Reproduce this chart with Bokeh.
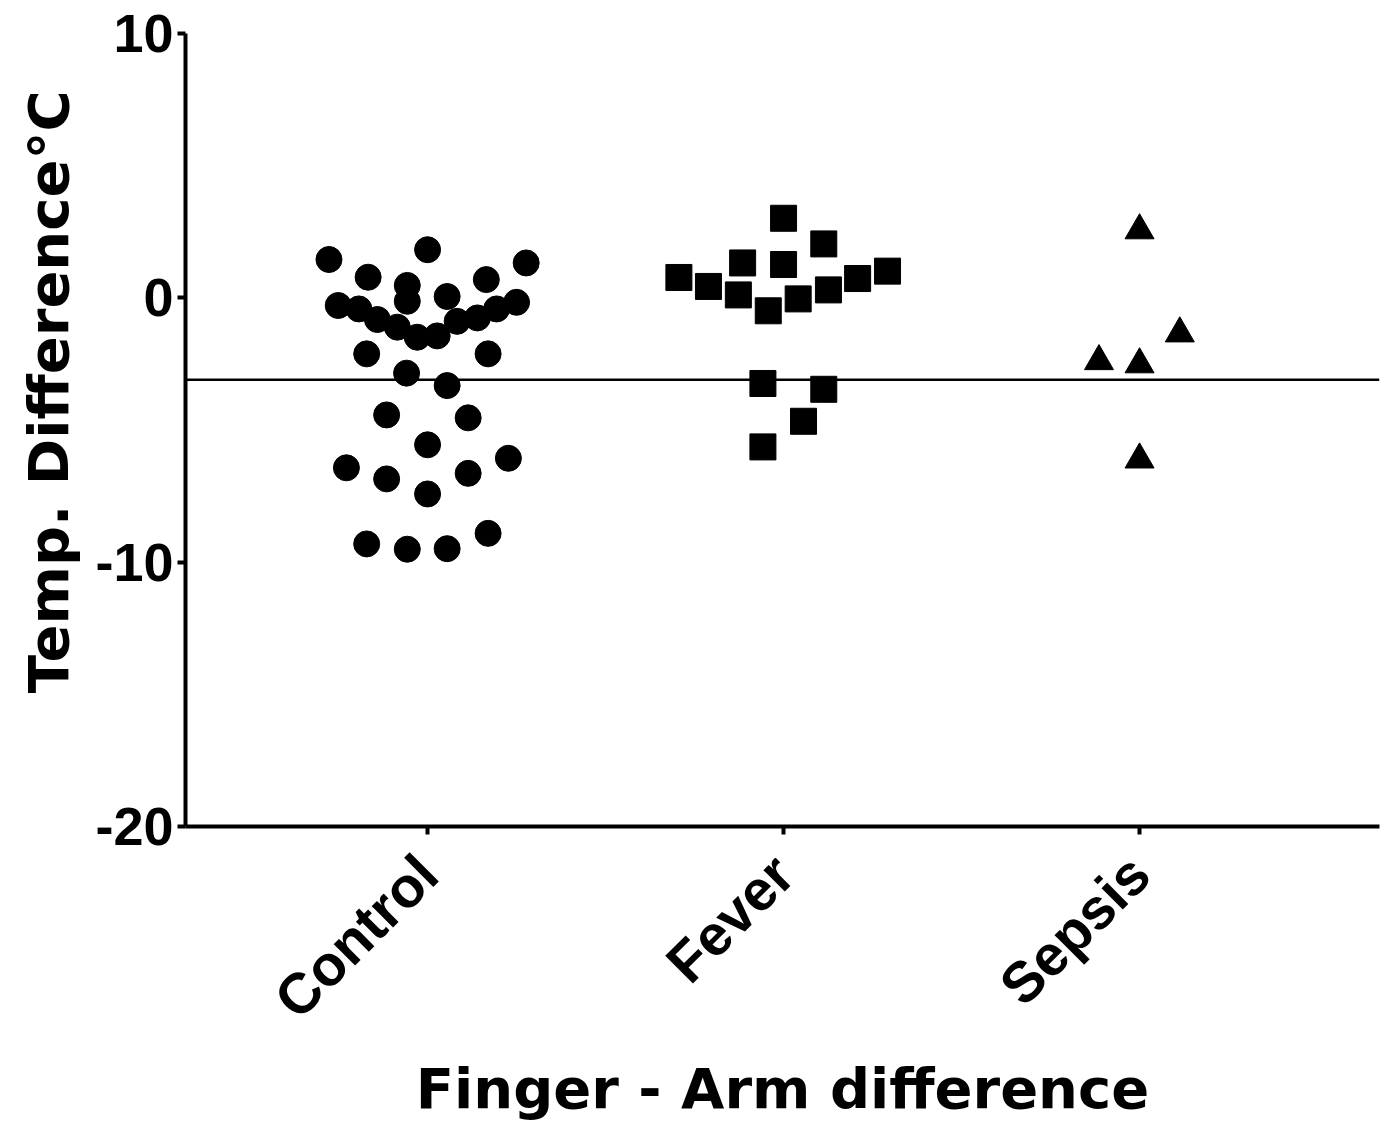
import math
from bokeh.plotting import figure
from bokeh.models import Span, FixedTicker, Range1d, Title
from bokeh.embed import file_html
from bokeh.resources import INLINE

# ---- data ----
categories = ["Control", "Fever", "Sepsis"]

control_values = [1.45, 1.82, 1.32, 0.78, 0.47, 0.69,
                  -0.29, -0.42, -0.13, 0.05,
                  -0.82, -1.11, -1.49, -1.44, -0.89, -0.76, -0.42, -0.17,
                  -2.12, -2.12, -2.85, -3.32,
                  -4.43, -4.54, -5.56,
                  -6.43, -6.85, -6.64, -6.07, -7.42,
                  -9.31, -9.51, -9.49, -8.91]
control_jitter = [-0.277, 0.0, 0.277, -0.167, -0.057, 0.165,
                  -0.251, -0.193, -0.057, 0.055,
                  -0.141, -0.085, -0.029, 0.027, 0.083, 0.140, 0.194, 0.250,
                  -0.171, 0.170, -0.059, 0.055,
                  -0.115, 0.114, 0.0,
                  -0.228, -0.115, 0.114, 0.227, 0.0,
                  -0.171, -0.057, 0.055, 0.170]

fever_values = [3.01, 2.04, 1.32, 1.26, 0.77, 0.43, 0.11, -0.49,
                -0.04, 0.30, 0.73, 1.01, -3.24, -3.46, -4.67, -5.64]
fever_jitter = [0.0, 0.113, -0.115, 0.0, -0.294, -0.211, -0.127, -0.043,
                0.041, 0.126, 0.208, 0.292, -0.058, 0.113, 0.056, -0.058]

sepsis_values = [2.55, -1.35, -2.40, -2.52, -6.12]
sepsis_jitter = [0.0, 0.113, -0.114, 0.0, 0.0]

y_ticks = [-20, -10, 0, 10]
y_tick_labels = ["-20", "-10", "0", "10"]
reference_line = -3.1

y_title = "Temp. Difference°C"
x_title = "Finger - Arm difference"

FONT = "Liberation Sans"
TITLE_FONT = "DejaVu Sans"

p = figure(width=1385, height=1128,
           x_range=Range1d(0.32, 3.674), y_range=Range1d(-20, 10),
           output_backend="svg", toolbar_location=None,
           min_border_left=185, min_border_right=6,
           min_border_top=33, min_border_bottom=302)

p.background_fill_color = "white"
p.border_fill_color = "white"
p.outline_line_color = None
p.xgrid.visible = False
p.ygrid.visible = False

cat_pos = {c: i + 1 for i, c in enumerate(categories)}

p.scatter([cat_pos["Control"] + j for j in control_jitter], control_values,
          marker="circle", size=26, fill_color="black", line_color="black", line_width=1)
p.scatter([cat_pos["Fever"] + j for j in fever_jitter], fever_values,
          marker="square", size=26, fill_color="black", line_color="black", line_width=1)
p.scatter([cat_pos["Sepsis"] + j for j in sepsis_jitter], sepsis_values,
          marker="triangle", size=29, fill_color="black", line_color="black", line_width=1)

p.add_layout(Span(location=reference_line, dimension="width",
                  line_color="black", line_width=2.5))

xa = p.xaxis[0]
xa.ticker = FixedTicker(ticks=[cat_pos[c] for c in categories], minor_ticks=[])
xa.major_label_overrides = {cat_pos[c]: c for c in categories}
xa.major_label_orientation = math.pi / 4
xa.axis_label = x_title

ya = p.yaxis[0]
ya.ticker = FixedTicker(ticks=y_ticks, minor_ticks=[])
ya.major_label_overrides = dict(zip(y_ticks, y_tick_labels))

for ax in (xa, ya):
    ax.axis_line_color = "black"
    ax.axis_line_width = 4
    ax.major_tick_line_color = "black"
    ax.major_tick_line_width = 4
    ax.major_tick_out = 8
    ax.major_tick_in = 0
    ax.minor_tick_line_color = None
    ax.major_label_text_font = FONT
    ax.major_label_text_font_style = "bold"
    ax.major_label_text_font_size = "54px"
    ax.major_label_text_color = "black"
    ax.axis_label_text_font = TITLE_FONT
    ax.axis_label_text_font_style = "bold"
    ax.axis_label_text_font_size = "56px"
    ax.axis_label_text_color = "black"

xa.major_label_text_font_size = "57px"
ya.major_label_standoff = 4
xa.major_label_standoff = 30
xa.axis_label_standoff = 0

# y-axis title as a side title, so it can sit where the reference has it
p.add_layout(Title(text=y_title, align="right", offset=57, standoff=24,
                   text_font=TITLE_FONT, text_font_style="bold",
                   text_font_size="56px", text_color="black"), "left")

open("out.html", "w").write(file_html(p, INLINE))
